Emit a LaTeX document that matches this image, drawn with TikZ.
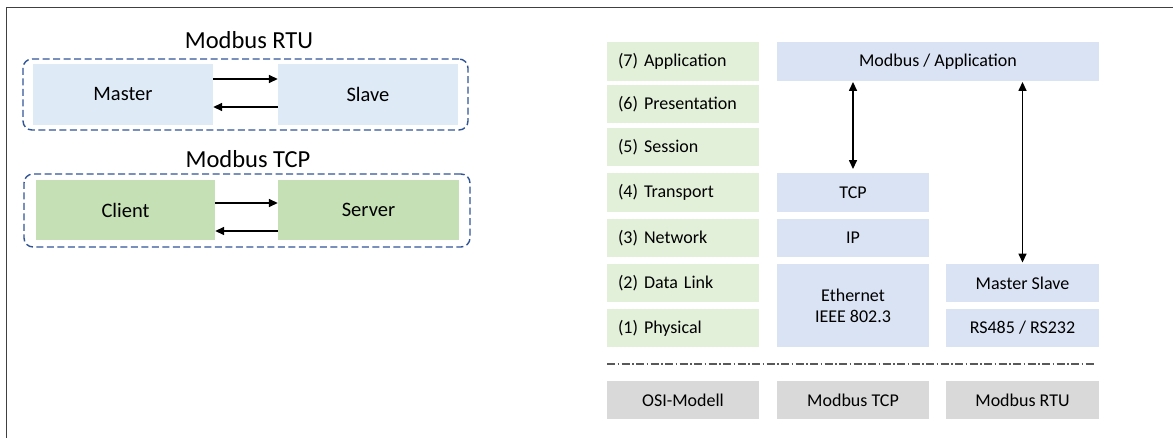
\documentclass[tikz,border=0pt]{standalone}
\usepackage{fontspec}
\setmainfont{Carlito}
\usetikzlibrary{arrows.meta,positioning}

\definecolor{framegray}{HTML}{404040}
\definecolor{rtufill}{HTML}{DEEBF7}
\definecolor{tcpfill}{HTML}{C5E0B4}
\definecolor{osifill}{HTML}{E2F0D9}
\definecolor{stackfill}{HTML}{DAE3F3}
\definecolor{basefill}{HTML}{D9D9D9}
\definecolor{groupblue}{HTML}{2F5597}
\definecolor{sepgray}{HTML}{595959}

\tikzset{
  endpoint/.style={draw=none, inner sep=0pt, minimum width=180pt, minimum height=61pt,
    font=\fontsize{20.5}{24}\selectfont},
  groupbox/.style={draw=groupblue, line width=1.4pt, dash pattern=on 7pt off 3.5pt,
    rounded corners=9pt, inner sep=0pt},
  grouptitle/.style={inner sep=0pt, font=\fontsize{24.5}{28}\selectfont},
  layer/.style={fill=osifill, inner ysep=0pt, inner xsep=11pt, text width=130pt,
    align=left, minimum height=38.5pt, font=\fontsize{18}{21}\selectfont},
  stack/.style={fill=stackfill, inner sep=0pt, minimum height=38.5pt, align=center,
    font=\fontsize{18}{21}\selectfont},
  base/.style={fill=basefill, inner sep=0pt, minimum width=152pt, minimum height=38pt,
    font=\fontsize{18}{21}\selectfont},
  flow/.style={line width=1.5pt, -{Triangle[length=9pt,width=8pt]}},
  duplex/.style={line width=1.5pt, {Triangle[length=9pt,width=8pt]}-{Triangle[length=9pt,width=8pt]}},
}

\begin{document}
\begin{tikzpicture}[x=1pt,y=-1pt]
\useasboundingbox (0,0) rectangle (1173,438);

% outer frame (open towards right and bottom)
\draw[framegray, line width=1.6pt] (6.5,460) -- (6.5,7.5) -- (1200,7.5);

% ---------- Modbus RTU ----------
\node[groupbox, minimum width=445pt, minimum height=71pt] (rtubox) at (245.5,94.5) {};
\node[grouptitle, anchor=base] (rtutitle) at (249,49) {Modbus RTU};
\node[endpoint, fill=rtufill] (master) at (123,94.5) {Master};
\node[endpoint, fill=rtufill] (slave) at (368,94.5) {Slave};
\draw[flow] ([yshift=15.5pt]master.east) -- ([yshift=15.5pt]slave.west);
\draw[flow] ([yshift=-12.5pt]slave.west) -- ([yshift=-12.5pt]master.east);

% ---------- Modbus TCP ----------
\node[groupbox, minimum width=446pt, minimum height=73pt] (tcpbox) at (247,210.5) {};
\node[grouptitle, anchor=base] (tcptitle) at (248,168) {Modbus TCP};
\node[endpoint, fill=tcpfill, minimum width=179pt, minimum height=60pt] (client) at (125.5,210) {Client};
\node[endpoint, fill=tcpfill, minimum width=181pt, minimum height=60pt] (server) at (368.5,210) {Server};
\draw[flow] ([yshift=7pt]client.east) -- ([yshift=7pt]server.west);
\draw[flow] ([yshift=-21pt]server.west) -- ([yshift=-21pt]client.east);

% ---------- OSI layers ----------
\node[layer] (l7) at (683,61.5) {(7) Application};
\node[layer] (l6) at (683,104)  {(6) Presentation};
\node[layer] (l5) at (683,147)  {(5) Session};
\node[layer] (l4) at (683,192.5){(4) Transport};
\node[layer] (l3) at (683,238)  {(3) Network};
\node[layer] (l2) at (683,283)  {(2) Data Link};
\node[layer] (l1) at (683,328)  {(1) Physical};

% ---------- protocol stacks ----------
\node[stack, minimum width=322pt] (app) at (938,61.5) {Modbus / Application};
\node[stack, minimum width=152pt] (tcp) at (853,192.5) {TCP};
\node[stack, minimum width=152pt] (ip) at (853,238) {IP};
\node[stack, minimum width=152pt, minimum height=83pt] (eth) at (853,305.5) {Ethernet\\IEEE 802.3};
\node[stack, minimum width=153pt] (ms) at (1022.5,283) {Master Slave};
\node[stack, minimum width=153pt] (rs) at (1022.5,328) {RS485 / RS232};

\draw[duplex] ([yshift=-1pt]app.south -| tcp.north) -- ([yshift=4pt]tcp.north);
\draw[duplex] ([yshift=-1pt]app.south -| ms.north) -- ([yshift=1pt]ms.north);

% separator
\coordinate (sepL) at (607,364);
\coordinate (sepR) at (1095,364);
\draw[sepgray, line width=1.3pt, dash pattern=on 8pt off 2.5pt on 1.5pt off 2.5pt] (sepL) -- (sepR);

% ---------- column captions ----------
\node[base] (osi) at (683,400) {OSI-Modell};
\node[base] (captcp) at (853,400) {Modbus TCP};
\node[base, minimum width=153pt] (caprtu) at (1022.5,400) {Modbus RTU};
\end{tikzpicture}
\end{document}
